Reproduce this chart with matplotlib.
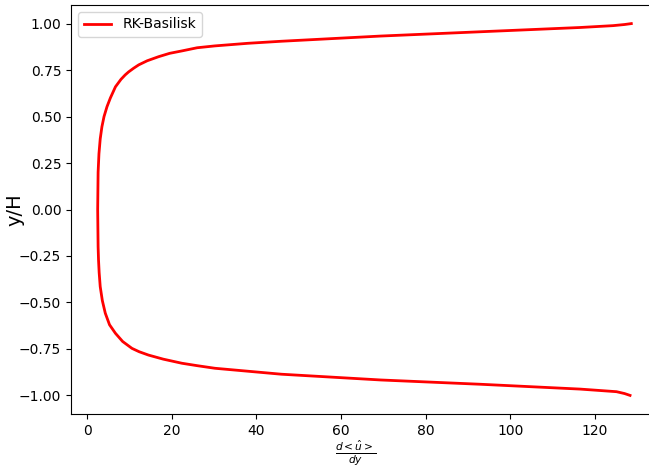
import matplotlib
matplotlib.use("Agg")
from matplotlib import pyplot as plt

# velocity gradient profile (y/H, d<u>/dy)
y_over_h = [1.0, 0.995, 0.989, 0.979, 0.956, 0.933, 0.905, 0.894, 0.88, 0.87,
            0.853, 0.84, 0.822, 0.80, 0.778, 0.76, 0.74, 0.724, 0.70, 0.66,
            0.60, 0.553, 0.50, 0.445, 0.38, 0.3, 0.2, 0.1, 0.0, -0.1, -0.2,
            -0.272, -0.34, -0.415, -0.49, -0.558, -0.62, -0.666, -0.71, -0.747,
            -0.765, -0.783, -0.805, -0.827, -0.84, -0.854, -0.886, -0.917,
            -0.940, -0.966, -0.98, -0.99, -1.0]
dudy = [128.6, 127.0, 124.3, 116.5, 92.9, 69.4, 45.9, 38.0, 30.2, 26.0,
        22.4, 19.5, 16.9, 14.2, 12.2, 11.0, 9.8, 9.0, 8.0, 6.7,
        5.5, 4.7, 4.0, 3.5, 3.1, 2.8, 2.6, 2.55, 2.5, 2.55, 2.6,
        2.7, 2.85, 3.1, 3.6, 4.3, 5.3, 6.7, 8.4, 10.6,
        12.3, 14.5, 18.0, 22.4, 26.0, 30.2, 45.9, 69.4,
        92.9, 116.5, 125.1, 127.0, 128.3]


def main():
    fig = plt.figure(figsize=(6.49, 4.68), dpi=100)
    # axes run past the right edge, like the cropped original
    ax = fig.add_axes([71 / 649, 54 / 468, 587 / 649, 409 / 468])
    ax.plot(dudy, y_over_h, color="red", linewidth=2, label="RK-Basilisk")
    ax.set_ylabel("y/H", fontsize=14)
    ax.set_xlabel(r"$\frac{d<\hat{u}>}{dy}$", fontsize=11)
    ax.yaxis.set_label_coords(-0.079, 0.5)
    ax.xaxis.set_label_coords(0.4855, -0.060)
    ax.legend(loc="upper left")
    fig.savefig("out.png", dpi=100)


if __name__ == '__main__':
    main()
